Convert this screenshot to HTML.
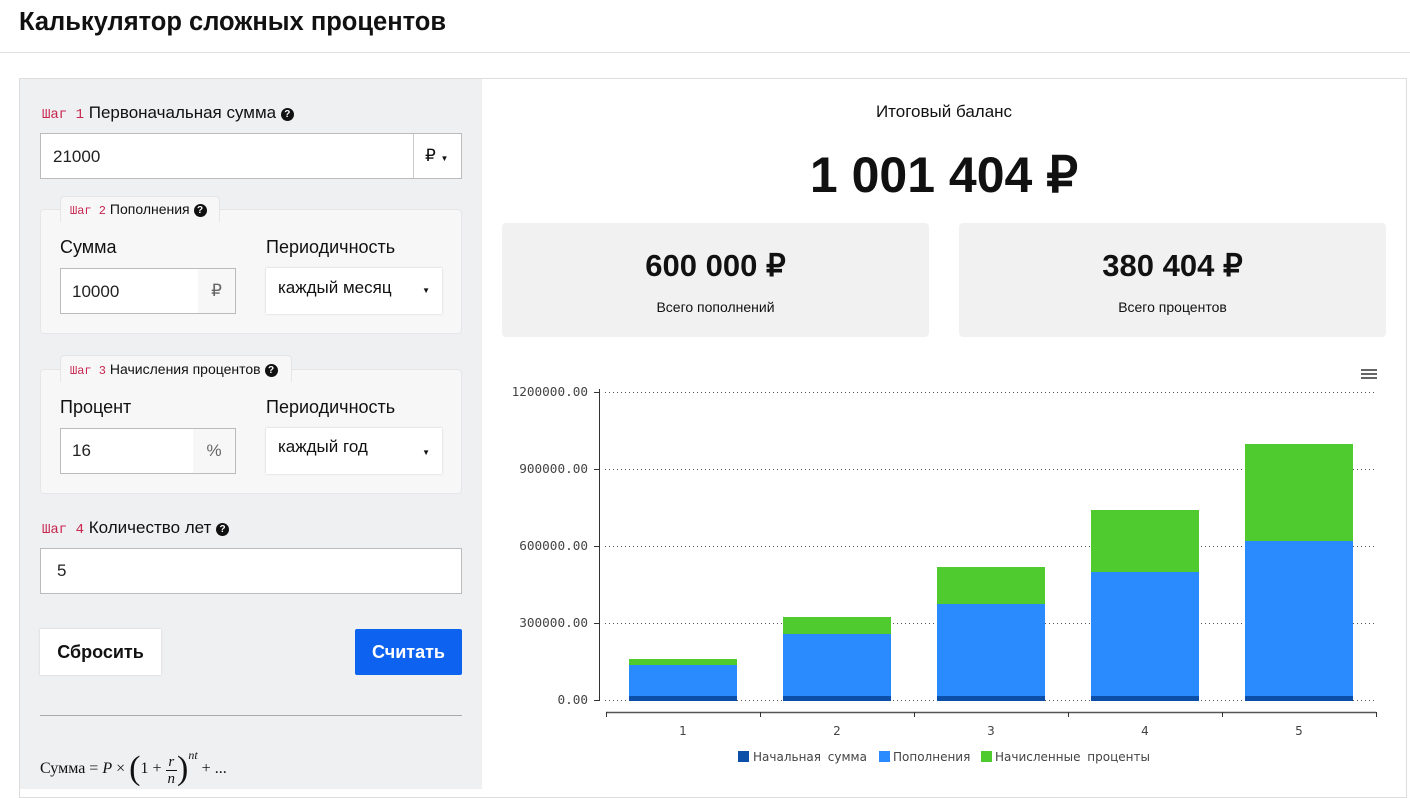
<!DOCTYPE html>
<html><head><meta charset="utf-8"><style>
*{box-sizing:border-box;margin:0;padding:0}
body{width:1410px;height:782px;overflow:hidden;background:#fff;font-family:"Liberation Sans",Arial,sans-serif;color:#111;position:relative}
.a{position:absolute}
.step{font-family:"Liberation Mono",monospace;color:#c7254e;font-size:14px}
.inp{position:absolute;background:#fff;border:1px solid #bbb;font-size:17px;color:#222}
.q{display:inline-block;width:13px;height:13px;border-radius:50%;background:#111;color:#fff;font-size:10px;font-weight:bold;text-align:center;line-height:13px;vertical-align:1px}
.box{position:absolute;background:#f7f7f8;border:1px solid #e6e6e8;border-radius:4px}
.sel{position:absolute;background:#fff;box-shadow:0 0 2px #ccc;font-size:17px;white-space:nowrap}
.chev{position:absolute;right:12px;top:18px;font-size:8px}
</style></head><body>
<div class="a" style="left:19px;top:8px;font-size:25.5px;font-weight:bold">Калькулятор сложных процентов</div>
<div class="a" style="left:0;top:52px;width:1410px;height:1px;background:#e2e2e2"></div>
<div class="a" style="left:19px;top:78px;width:1388px;height:720px;border:1px solid #ddd;background:#fff"></div>
<div class="a" style="left:20px;top:79px;width:462px;height:710px;background:#eff0f2"></div>

<div class="a" style="left:42px;top:103px;font-size:17px"><span class="step">Шаг 1</span> Первоначальная сумма <span class="q">?</span></div>
<div class="inp" style="left:40px;top:133px;width:422px;height:46px;padding:13px 12px">21000</div>
<div class="a" style="left:413px;top:134px;width:1px;height:44px;background:#ccc"></div>
<div class="a" style="left:425px;top:146px;font-size:17px">₽ <span style="font-size:8px">▼</span></div>

<div class="box" style="left:40px;top:209px;width:422px;height:125px"></div>
<div class="a" style="left:60px;top:196px;width:160px;height:26px;background:#f7f7f8;border:1px solid #e6e6e8;border-bottom:none;border-radius:4px 4px 0 0"></div>
<div class="a" style="left:70px;top:201px;font-size:14px"><span class="step" style="font-size:12px">Шаг 2</span> Пополнения <span class="q">?</span></div>
<div class="a" style="left:60px;top:237px;font-size:18px">Сумма</div>
<div class="a" style="left:266px;top:237px;font-size:18px">Периодичность</div>
<div class="inp" style="left:60px;top:268px;width:176px;height:46px;padding:13px 11px">10000</div>
<div class="a" style="left:198px;top:269px;width:37px;height:44px;background:#f7f7f8;color:#666;font-size:17px;text-align:center;line-height:44px">₽</div>
<div class="sel" style="left:266px;top:268px;width:176px;height:46px;padding:10px 12px">каждый месяц<span class="chev">▼</span></div>

<div class="box" style="left:40px;top:369px;width:422px;height:125px"></div>
<div class="a" style="left:60px;top:355px;width:232px;height:27px;background:#f7f7f8;border:1px solid #e6e6e8;border-bottom:none;border-radius:4px 4px 0 0"></div>
<div class="a" style="left:70px;top:361px;font-size:14px"><span class="step" style="font-size:12px">Шаг 3</span> Начисления процентов <span class="q">?</span></div>
<div class="a" style="left:60px;top:397px;font-size:18px">Процент</div>
<div class="a" style="left:266px;top:397px;font-size:18px">Периодичность</div>
<div class="inp" style="left:60px;top:428px;width:176px;height:46px;padding:12px 11px">16</div>
<div class="a" style="left:193px;top:429px;width:42px;height:44px;background:#f7f7f8;color:#666;font-size:17px;text-align:center;line-height:44px">%</div>
<div class="sel" style="left:266px;top:428px;width:176px;height:46px;padding:9px 12px">каждый год<span class="chev" style="top:20px">▼</span></div>

<div class="a" style="left:42px;top:518px;font-size:17px"><span class="step">Шаг 4</span> Количество лет <span class="q">?</span></div>
<div class="inp" style="left:40px;top:548px;width:422px;height:46px;padding:12px 16px">5</div>

<div class="a" style="left:40px;top:629px;width:121px;height:46px;background:#fff;box-shadow:0 0 2px #ccc;font-size:18px;font-weight:bold;text-align:center;line-height:46px">Сбросить</div>
<div class="a" style="left:355px;top:629px;width:107px;height:46px;background:#0d63f0;border-radius:2px;color:#fff;font-size:18px;font-weight:bold;text-align:center;line-height:46px">Считать</div>
<div class="a" style="left:40px;top:715px;width:422px;height:1px;background:#aaa"></div>
<div class="a" style="left:40px;top:748px;font-family:'Liberation Serif',serif;font-size:16px;white-space:nowrap">Сумма = <i>P</i> × <span style="font-size:34px;vertical-align:-6px;font-weight:100">(</span>1 + <span style="display:inline-block;vertical-align:-10px;text-align:center;line-height:16px;font-size:15px"><i>r</i><br><span style="border-top:1px solid #111;display:block;padding:0 2px"><i>n</i></span></span><span style="font-size:34px;vertical-align:-6px">)</span><sup style="font-size:12px;font-style:italic;vertical-align:14px">nt</sup> + ...</div>

<div class="a" style="left:482px;top:102px;width:924px;text-align:center;font-size:17px">Итоговый баланс</div>
<div class="a" style="left:482px;top:146px;width:924px;text-align:center;font-size:50px;font-weight:bold">1 001 404 ₽</div>
<div class="a" style="left:502px;top:223px;width:427px;height:114px;background:#f1f1f1;border-radius:4px;text-align:center">
<div style="margin-top:25px;font-size:31px;font-weight:bold">600 000 ₽</div><div style="margin-top:15px;font-size:14px">Всего пополнений</div></div>
<div class="a" style="left:959px;top:223px;width:427px;height:114px;background:#f1f1f1;border-radius:4px;text-align:center">
<div style="margin-top:25px;font-size:31px;font-weight:bold">380 404 ₽</div><div style="margin-top:15px;font-size:14px">Всего процентов</div></div>

<svg class="a" style="left:0;top:0" width="1410" height="782">
<g stroke="#555" stroke-width="1" stroke-dasharray="1,3">
<line x1="605" y1="392.5" x2="1376" y2="392.5"/><line x1="605" y1="469.5" x2="1376" y2="469.5"/><line x1="605" y1="546.5" x2="1376" y2="546.5"/><line x1="605" y1="623.5" x2="1376" y2="623.5"/><line x1="605" y1="700.5" x2="1376" y2="700.5"/></g>
<g stroke="#333"><line x1="599.5" y1="389" x2="599.5" y2="701"/>
<line x1="594" y1="392.5" x2="599" y2="392.5"/><line x1="594" y1="469.5" x2="599" y2="469.5"/><line x1="594" y1="546.5" x2="599" y2="546.5"/><line x1="594" y1="623.5" x2="599" y2="623.5"/><line x1="594" y1="700.5" x2="599" y2="700.5"/>
<line x1="606" y1="712.5" x2="1376" y2="712.5" stroke="#555" stroke-width="1.5"/>
<line x1="606.5" y1="712" x2="606.5" y2="717"/><line x1="760.5" y1="712" x2="760.5" y2="717"/><line x1="914.5" y1="712" x2="914.5" y2="717"/><line x1="1068.5" y1="712" x2="1068.5" y2="717"/><line x1="1222.5" y1="712" x2="1222.5" y2="717"/><line x1="1376.5" y1="712" x2="1376.5" y2="717"/></g>
<g font-family="DejaVu Sans Mono,monospace" font-size="12.7" fill="#444" text-anchor="end">
<text x="588" y="396">1200000.00</text><text x="588" y="473">900000.00</text><text x="588" y="550">600000.00</text><text x="588" y="627">300000.00</text><text x="588" y="704">0.00</text></g>
<g font-family="DejaVu Sans,sans-serif" font-size="12" fill="#444" text-anchor="middle">
<text x="683" y="735">1</text><text x="837" y="735">2</text><text x="991" y="735">3</text><text x="1145" y="735">4</text><text x="1299" y="735">5</text></g>
<g>
<rect x="629" y="659" width="108" height="6" fill="#4fcb30"/><rect x="629" y="665" width="108" height="31" fill="#2a8bff"/><rect x="629" y="696" width="108" height="5" fill="#0b4fa8"/>
<rect x="783" y="617" width="108" height="17" fill="#4fcb30"/><rect x="783" y="634" width="108" height="62" fill="#2a8bff"/><rect x="783" y="696" width="108" height="5" fill="#0b4fa8"/>
<rect x="937" y="567" width="108" height="37" fill="#4fcb30"/><rect x="937" y="604" width="108" height="92" fill="#2a8bff"/><rect x="937" y="696" width="108" height="5" fill="#0b4fa8"/>
<rect x="1091" y="510" width="108" height="62" fill="#4fcb30"/><rect x="1091" y="572" width="108" height="124" fill="#2a8bff"/><rect x="1091" y="696" width="108" height="5" fill="#0b4fa8"/>
<rect x="1245" y="444" width="108" height="97" fill="#4fcb30"/><rect x="1245" y="541" width="108" height="155" fill="#2a8bff"/><rect x="1245" y="696" width="108" height="5" fill="#0b4fa8"/>
</g>
<g stroke="#666" stroke-width="2"><line x1="1361" y1="370" x2="1377" y2="370"/><line x1="1361" y1="374" x2="1377" y2="374"/><line x1="1361" y1="378" x2="1377" y2="378"/></g>
<g font-family="DejaVu Sans,sans-serif" font-size="12" fill="#444" word-spacing="3">
<rect x="738" y="751" width="11" height="11" fill="#0b4fa8"/><text x="753" y="761">Начальная сумма</text>
<rect x="879" y="751" width="11" height="11" fill="#2a8bff"/><text x="893" y="761">Пополнения</text>
<rect x="981" y="751" width="11" height="11" fill="#4fcb30"/><text x="995" y="761">Начисленные проценты</text></g>
</svg>
</body></html>
